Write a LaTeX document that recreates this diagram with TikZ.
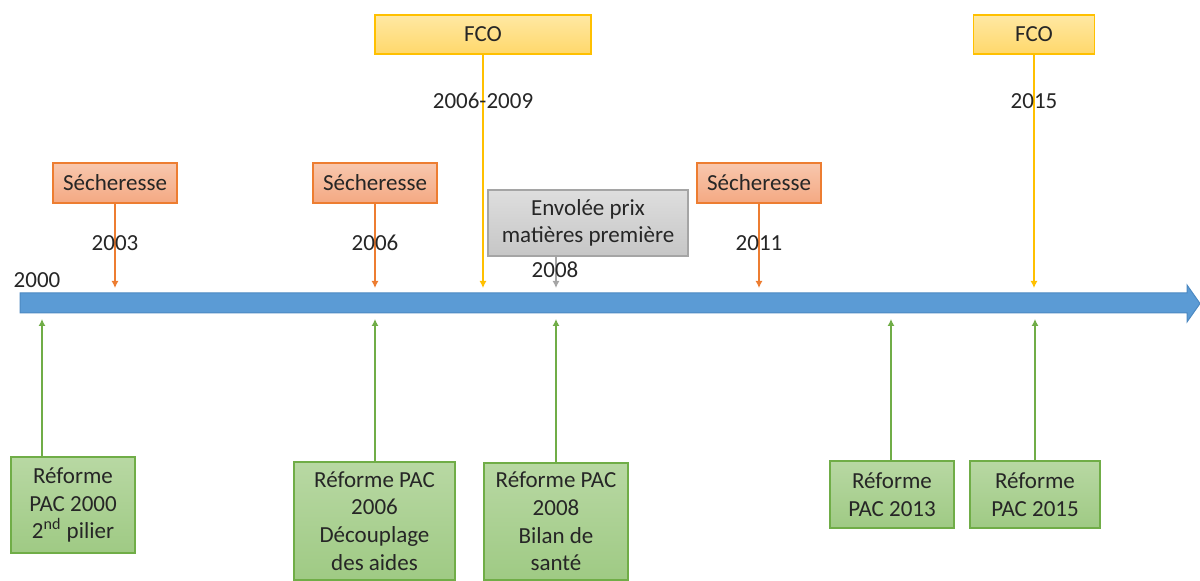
\documentclass[tikz,border=0pt]{standalone}
\usepackage{fontspec}
\setmainfont{Carlito}
\usetikzlibrary{arrows.meta}

\definecolor{axisfill}{HTML}{5B9BD5}
\definecolor{axisline}{HTML}{4C89C2}
\definecolor{orgline}{HTML}{ED7D31}
\definecolor{orgtop}{HTML}{F8C7AD}
\definecolor{orgbot}{HTML}{F4A983}
\definecolor{ylwline}{HTML}{FFC000}
\definecolor{ylwtop}{HTML}{FFE8A3}
\definecolor{ylwbot}{HTML}{FFD86B}
\definecolor{gryline}{HTML}{A5A5A5}
\definecolor{grytop}{HTML}{DEDEDE}
\definecolor{grybot}{HTML}{C6C6C6}
\definecolor{grnline}{HTML}{70AD47}
\definecolor{grntop}{HTML}{B8D8A3}
\definecolor{grnbot}{HTML}{9FCA84}
\definecolor{txt}{HTML}{262626}

\tikzset{
  box/.style={draw, line width=0.6pt, inner sep=0pt, align=center, text=txt},
  sech/.style={box, draw=orgline, top color=orgtop, bottom color=orgbot,
    minimum width=62pt, minimum height=20pt},
  fco/.style={box, draw=ylwline, top color=ylwtop, bottom color=ylwbot,
    minimum height=19.5pt},
  prix/.style={box, draw=gryline, top color=grytop, bottom color=grybot,
    minimum width=100pt, minimum height=33pt},
  pac/.style={box, draw=grnline, top color=grntop, bottom color=grnbot},
  year/.style={text=txt, inner sep=0pt}
}

\begin{document}
\begin{tikzpicture}[x=0.5pt, y=-0.5pt, >={Latex[length=3.5pt,width=3.5pt]},
    font=\fontsize{11.5}{13.8}\selectfont]
    \useasboundingbox (0,0) rectangle (1200,581);

    % axe du temps
    \filldraw[fill=axisfill, draw=axisline, line width=0.5pt]
        (20,293) -- (1187,293) -- (1187,285) -- (1200,303.5)
        -- (1187,322) -- (1187,313) -- (20,313) -- cycle;
    \node[year] (a00) at (37,280) {2000};

    % secheresses
    \foreach \x/\yr/\n in {115/2003/s1, 375/2006/s2, 759/2011/s3}
    {
        \node[sech] (\n) at (\x,183) {Sécheresse};
        \coordinate (t\n) at (\x,288);
        \draw[->, orgline, line width=0.6pt] (\n) -- (t\n);
        \node[year] (y\n) at (\x,243) {\yr};
    }

    % FCO
    \node[fco, minimum width=108pt] (f1) at (483,34.5) {FCO};
    \node[fco, minimum width=60.5pt] (f2) at (1034,34.5) {FCO};
    \foreach \n/\x/\yr in {f1/483/2006-2009, f2/1034/2015}
    {
        \coordinate (t\n) at (\x,288);
        \draw[->, ylwline, line width=0.6pt] (\n) -- (t\n);
        \node[year] (y\n) at (\x,101) {\yr};
    }

    % envolee des prix
    \node[prix] (p1) at (588,223) {Envolée prix\\matières première};
    \coordinate (tp1) at (556,288);
    \draw[->, gryline, line width=0.6pt] (p1.south -| tp1) -- (tp1);
    \node[year] (yp1) at (555,270) {2008};

    % reformes PAC
    \node[pac, minimum width=62pt, minimum height=48pt] (r1) at (73,505)
        {Réforme\\PAC 2000\\2\textsuperscript{nd} pilier};
    \node[pac, minimum width=80.5pt, minimum height=59pt] (r2) at (374.5,521)
        {Réforme PAC\\2006\\Découplage\\des aides};
    \node[pac, minimum width=72pt, minimum height=58.5pt] (r3) at (556,521.5)
        {Réforme PAC\\2008\\Bilan de\\santé};
    \node[pac, minimum width=62pt, minimum height=33.5pt] (r4) at (892,494.5)
        {Réforme\\PAC 2013};
    \node[pac, minimum width=65pt, minimum height=33.5pt] (r5) at (1035,494.5)
        {Réforme\\PAC 2015};
    \foreach \n/\x in {r1/42, r2/375, r3/556, r4/891, r5/1035}
    {
        \coordinate (t\n) at (\x,319);
        \draw[->, grnline, line width=0.6pt] (\n.north -| t\n) -- (t\n);
    }
\end{tikzpicture}
\end{document}
